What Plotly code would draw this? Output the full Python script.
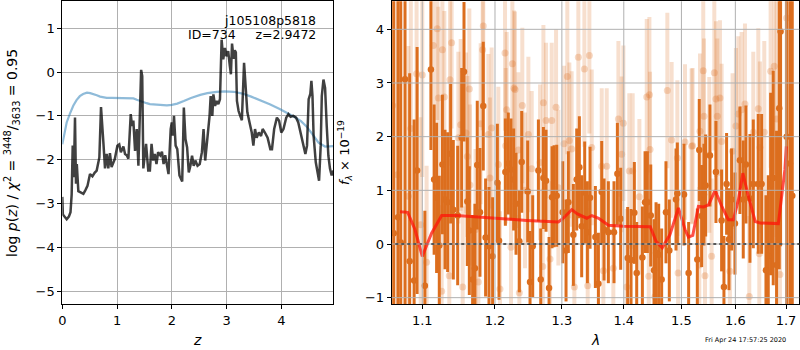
import plotly.graph_objects as go

# ---------------- left panel: p(z) ----------------
z_pz = [0.0, 0.01, 0.04, 0.08, 0.12, 0.15, 0.171, 0.19, 0.21, 0.232, 0.25, 0.265, 0.293, 0.33, 0.385, 0.42,
        0.46, 0.506, 0.55, 0.59, 0.628, 0.677, 0.707, 0.75, 0.78, 0.81, 0.84, 0.87, 0.90, 0.96, 1.006, 1.04,
        1.07, 1.116, 1.146, 1.177, 1.207, 1.25, 1.274, 1.298, 1.329, 1.36, 1.39, 1.44, 1.46, 1.48, 1.53, 1.57,
        1.60, 1.63, 1.66, 1.69, 1.72, 1.75, 1.79, 1.82, 1.85, 1.88, 1.91, 1.94, 1.98, 2.0, 2.02, 2.04, 2.07,
        2.10, 2.14, 2.19, 2.22, 2.25, 2.28, 2.31, 2.34, 2.37, 2.40, 2.43, 2.47, 2.51, 2.55, 2.58, 2.61, 2.65,
        2.69, 2.71, 2.74, 2.76, 2.79, 2.82, 2.85, 2.88, 2.90, 2.91, 2.94, 2.97, 3.0, 3.03, 3.06, 3.08, 3.10,
        3.13, 3.15, 3.17, 3.19, 3.22, 3.25, 3.28, 3.32, 3.35, 3.38, 3.42, 3.46, 3.49, 3.52, 3.55, 3.59, 3.63,
        3.66, 3.70, 3.75, 3.80, 3.83, 3.87, 3.92, 3.96, 4.00, 4.04, 4.09, 4.13, 4.17, 4.22, 4.27, 4.31, 4.35,
        4.39, 4.44, 4.47, 4.50, 4.53, 4.55, 4.57, 4.59, 4.63, 4.66, 4.69, 4.72, 4.74, 4.77, 4.80, 4.83, 4.86,
        4.89, 4.92, 4.95]
logp = [-2.85, -3.25, -3.3, -3.36, -3.3, -3.2, -2.8, -1.68, -2.4, -1.04, -2.55, -2.1, -2.72, -2.75, -2.78, -2.7,
        -2.6, -2.33, -2.38, -2.3, -2.25, -1.95, -0.8, -1.6, -2.2, -1.87, -2.2, -1.85, -2.17, -1.98, -1.68, -1.65,
        -1.83, -1.7, -1.87, -1.9, -1.98, -0.96, -1.23, -1.11, -1.8, -1.3, -2.14, 0.05, -0.09, -2.2, -1.64, -2.25,
        -2.25, -1.64, -2.02, -1.87, -2.1, -1.83, -1.9, -1.82, -2.1, -1.9, -2.13, -2.33, -1.3, -1.15, -1.45, -1.0, -1.68,
        -1.76, -2.36, -2.5, -0.81, -1.53, -1.72, -2.29, -2.14, -1.91, -2.14, -2.02, -2.14, -2.1, -1.83, -1.3, -2.02, -1.53,
        -1.0, -0.55, -1.0, -0.51, -0.77, -0.66, -0.73, -0.62, 0.52, 0.74, 0.29, 0.55, 0.36, 0.48, 0.14, -0.05, 0.65,
        0.3, 0.5, 0.45, -0.66, -0.89, -1.0, -1.1, 0.21, -0.3, -0.92, -1.15, -1.38, -1.68, -1.3, -1.5, -1.38, -1.46,
        -1.3, -1.38, -1.5, -1.76, -1.76, -1.3, -1.04, -1.11, -1.38, -1.3, -1.04, -0.96, -1.02, -1.0, -1.04, -1.15, -1.38,
        -1.57, -1.87, -1.68, -0.62, -0.5, -0.2, -0.55, -1.45, -2.06, -2.29, -2.48, -1.68, -0.55, -0.17, -0.36, -1.23, -1.91,
        -2.21, -2.36, -2.25]

z_prior = [0.0, 0.04, 0.08, 0.14, 0.2, 0.26, 0.32, 0.38, 0.45, 0.51, 0.57, 0.63, 0.69, 0.75, 0.81, 0.9, 1.0, 1.1,
           1.18, 1.3, 1.36, 1.42, 1.48, 1.54, 1.6, 1.69, 1.8, 1.91, 2.0, 2.1, 2.22, 2.35, 2.52, 2.65, 2.82, 2.97,
           3.13, 3.29, 3.45, 3.61, 3.8, 3.98, 4.12, 4.25, 4.36, 4.46, 4.57, 4.68, 4.80, 4.95]
logp_prior = [-1.65, -1.35, -1.15, -0.95, -0.77, -0.64, -0.55, -0.5, -0.47, -0.48, -0.5, -0.53, -0.56, -0.58, -0.59,
              -0.59, -0.59, -0.6, -0.59, -0.6, -0.63, -0.66, -0.69, -0.71, -0.73, -0.74, -0.75, -0.76, -0.75, -0.72,
              -0.66, -0.59, -0.52, -0.48, -0.45, -0.44, -0.45, -0.49, -0.56, -0.64, -0.74, -0.85, -0.94, -1.03, -1.12,
              -1.24, -1.42, -1.61, -1.70, -1.69]

# ---------------- right panel: spectrum ----------------
lam_dark = [1.0630, 1.0685, 1.0720, 1.0775, 1.0835, 1.0893, 1.0932, 1.1034, 1.1114, 1.1157, 1.1190, 1.1226, 1.1268,
            1.1303, 1.1339, 1.1380, 1.1416, 1.1476, 1.1531, 1.1563, 1.1609, 1.1637, 1.1683, 1.1715, 1.1748, 1.1786,
            1.1833, 1.1866, 1.1914, 1.1966, 1.2034, 1.2058, 1.2150, 1.2193, 1.2232, 1.2271, 1.2306, 1.2355, 1.2390,
            1.2479, 1.2514, 1.2554, 1.2640, 1.2675, 1.2716, 1.2756, 1.2802, 1.2848, 1.2879, 1.2920, 1.3013, 1.3065,
            1.3101, 1.3180, 1.3233, 1.3275, 1.3312, 1.3360, 1.3403, 1.3446, 1.3532, 1.3581, 1.3635, 1.3673, 1.3744,
            1.3837, 1.3893, 1.3948, 1.4065, 1.4122, 1.4178, 1.4218, 1.4315, 1.4361, 1.4401, 1.4459, 1.4516, 1.4551,
            1.4597, 1.4649, 1.4725, 1.4784, 1.4903, 1.4927, 1.5046, 1.5130, 1.5288, 1.5324, 1.5367, 1.5410, 1.5441,
            1.5521, 1.5633, 1.5739, 1.5783, 1.5833, 1.5878, 1.5928, 1.5992, 1.6088, 1.6152, 1.6204, 1.6282, 1.6347,
            1.6445, 1.6511, 1.6597, 1.6643, 1.6690, 1.6742, 1.6809, 1.6863, 1.6890, 1.7013, 1.7080, 1.7128]
f_dark = [0.2, 0.5, 0.03, 3.07, -0.32, -0.68, 1.37, -0.78, 3.25, 1.2, 0.86, -0.03, 1.48, 0.83, 0.78, 1.68, 0.64,
          0.53, 1.98, 3.21, 0.79, 0.25, -0.66, -0.45, 1.47, 0.59, 2.57, 0.12, -0.04, -0.23, 1.14, 0.06, 1.34, 1.5,
          1.39, 1.2, 0.75, 0.05, 1.53, 0.98, -0.71, -0.04, 1.37, -0.66, 1.23, 1.18, -0.82, 0.87, 0.89, 0.9, 0.59,
          -0.12, 0.78, 0.17, 1.2, 1.43, 0.33, 0.96, 0.22, 0.86, 0.13, -0.74, 0.97, 0.27, 0.22, 0.22, 1.31, 0.47,
          -0.26, -0.3, 0.58, -0.54, -0.25, 0.78, 0.78, 0.53, -0.49, -0.17, -0.2, -0.66, 0.59, -0.12, 0.83, 0.94,
          0.92, -0.54, -0.29, 1.75, 0.52, 0.92, 1.09, 1.65, 1.34, 0.44, -0.8, 1.12, 0.09, 0.83, 0.38, 1.56, 0.83,
          1.48, 0.85, 1.12, 1.12, 1.12, -0.49, -0.22, 1.12, 1.23, -0.39, 2.53, 3.96, 2.0, 1.5, 0.9]
e_dark = [6.0, 6.0, 6.0, 5.0, 3.5, 3.0, 2.3, 1.4, 1.5, 1.4, 1.4, 1.3, 1.3, 1.3, 1.3, 1.3, 1.3, 1.3, 1.3, 1.3, 1.2,
          1.2, 1.2, 1.2, 1.2, 1.2, 1.2, 1.1, 1.1, 1.1, 1.1, 1.1, 1.0, 0.95, 0.95, 0.95, 0.95, 0.95, 0.95, 0.95, 0.95,
          0.95, 0.95, 0.95, 0.95, 0.95, 0.95, 0.95, 0.95, 0.95, 0.95, 0.95, 0.95, 0.95, 0.95, 0.95, 0.95, 0.95, 0.95,
          0.95, 0.95, 0.95, 0.95, 0.95, 0.95, 0.95, 0.95, 0.95, 0.95, 0.95, 0.95, 0.95, 0.95, 0.95, 0.95, 0.95, 0.95,
          0.95, 0.95, 0.95, 0.95, 0.95, 0.95, 0.95, 0.95, 0.95, 0.95, 0.95, 0.95, 0.95, 0.95, 0.95, 0.95, 0.95, 0.95,
          0.95, 0.95, 0.95, 0.95, 1.0, 1.1, 1.1, 1.2, 1.2, 1.3, 1.3, 1.4, 1.5, 1.7, 2.0, 2.5, 3.0, 4.0, 5.0, 6.0,
          6.0, 2.1]

lam_light = [1.0616, 1.0678, 1.0818, 1.0850, 1.0925, 1.0979, 1.1000, 1.1057, 1.1146, 1.1199, 1.1213, 1.1258, 1.1268,
             1.1294, 1.1361, 1.1371, 1.1393, 1.1485, 1.1517, 1.1545, 1.1591, 1.1609, 1.1637, 1.1646, 1.1724, 1.1763,
             1.1796, 1.1824, 1.1833, 1.1905, 1.1928, 1.1952, 1.2048, 1.2072, 1.2145, 1.2155, 1.2169, 1.2232, 1.2252,
             1.2276, 1.2291, 1.2340, 1.2355, 1.2399, 1.2439, 1.2489, 1.2539, 1.2665, 1.2706, 1.2716, 1.2756, 1.2817,
             1.2843, 1.2910, 1.2946, 1.3033, 1.3085, 1.3117, 1.3153, 1.3196, 1.3259, 1.3355, 1.3408, 1.3435, 1.3473,
             1.3635, 1.3662, 1.3717, 1.3826, 1.3910, 1.3965, 1.3993, 1.4049, 1.4093, 1.4150, 1.4264, 1.4390, 1.4425,
             1.4436, 1.4447, 1.4533, 1.4749, 1.4825, 1.4927, 1.4940, 1.5064, 1.5184, 1.5202, 1.5324, 1.5337, 1.5397,
             1.5410, 1.5429, 1.5509, 1.5552, 1.5602, 1.5633, 1.5658, 1.5708, 1.5739, 1.5896, 1.5947, 1.6011, 1.6056,
             1.6120, 1.6185, 1.6269, 1.6347, 1.6445, 1.6465, 1.6478, 1.6564, 1.6690, 1.6762, 1.6809, 1.6877, 1.7013]
f_light = [2.58, 1.29, 0.89, 2.15, 3.17, 0.36, 3.15, -0.34, 3.7, 4.01, 2.72, -0.88, 3.62, 2.74, -0.59, 3.06, 3.75,
           1.98, 2.22, -0.8, 2.07, 1.63, 2.89, 1.1, 0.27, -0.71, 2.24, 3.62, 4.06, 2.04, 1.23, 2.16, 1.48, -0.84,
           3.56, 1.83, 2.5, -0.06, 3.36, 2.9, 2.88, 1.75, -0.91, 2.58, 1.0, 2.04, 1.4, 1.52, -0.42, 2.63, 2.3,
           -0.28, 2.3, 2.55, 1.05, 1.87, 3.12, 1.93, 1.77, -0.8, 3.48, 3.26, -0.78, 3.51, 1.8, 1.45, -0.5, 1.45,
           -0.45, 2.33, 1.67, 2.25, -0.8, 1.36, 1.36, 0.88, 2.74, -0.6, 2.78, 1.76, -0.98, 2.86, 1.94, 1.6, -0.54,
           1.9, 1.82, 1.83, -0.39, 2.1, 3.23, 2.38, -0.59, 1.66, -0.23, 3.19, 2.7, 2.38, 2.72, 1.91, -0.51, 1.73,
           2.2, 2.42, 2.5, 2.61, -0.98, 2.08, 2.52, -0.18, 1.8, 2.08, 3.22, 3.31, 2.33, -0.57, 4.21]
e_light = [4.0, 3.5, 2.8, 2.5, 2.2, 2.0, 1.9, 1.8, 1.7, 1.7, 1.7, 1.6, 1.6, 1.6, 1.6, 1.6, 1.6, 1.6, 1.6, 1.5, 1.5,
           1.5, 1.5, 1.5, 1.5, 1.5, 1.5, 1.5, 1.5, 1.5, 1.5, 1.5, 1.45, 1.45, 1.45, 1.45, 1.45, 1.45, 1.45, 1.45,
           1.45, 1.45, 1.45, 1.45, 1.45, 1.45, 1.45, 1.45, 1.45, 1.45, 1.45, 1.45, 1.45, 1.45, 1.45, 1.45, 1.45,
           1.45, 1.45, 1.45, 1.45, 1.45, 1.45, 1.45, 1.45, 1.45, 1.45, 1.45, 1.45, 1.45, 1.45, 1.45, 1.45, 1.45,
           1.45, 1.45, 1.45, 1.45, 1.45, 1.45, 1.45, 1.45, 1.45, 1.45, 1.45, 1.45, 1.45, 1.45, 1.45, 1.45, 1.45,
           1.45, 1.45, 1.45, 1.45, 1.45, 1.45, 1.45, 1.45, 1.45, 1.45, 1.45, 1.45, 1.45, 1.45, 1.5, 1.5, 1.5, 1.5,
           1.6, 1.6, 1.7, 1.8, 2.0, 2.2, 2.5, 2.8, 3.0, 4.0]

lam_model = [1.0710, 1.0809, 1.0904, 1.1000, 1.1123, 1.1258, 1.1462, 1.1975, 1.2464, 1.2945, 1.3023, 1.3154, 1.3244,
             1.3394, 1.3475, 1.3585, 1.3746, 1.3992, 1.4451, 1.4551, 1.4660, 1.4794, 1.4946, 1.5065, 1.5127, 1.5205,
             1.5308, 1.5403, 1.5496, 1.5617, 1.5743, 1.5868, 1.5963, 1.6060, 1.6144, 1.6251, 1.6385, 1.6485, 1.6845,
             1.6977, 1.7007]
f_model = [0.60, 0.59, 0.27, -0.23, 0.20, 0.53, 0.53, 0.48, 0.44, 0.41, 0.48, 0.64, 0.56, 0.48, 0.53, 0.48, 0.35,
           0.33, 0.32, 0.05, -0.07, 0.17, 0.67, 0.27, 0.13, 0.16, 0.70, 0.69, 0.73, 1.00, 0.70, 0.45, 0.45, 0.83,
           1.32, 0.89, 0.42, 0.39, 0.38, 1.38, 1.82]

zero_lam = [1.065, 1.728]
zero_f = [0.0, 0.0]

z_ticks = [0, 1, 2, 3, 4]
lp_ticks = [1, 0, -1, -2, -3, -4, -5]
lam_ticks = [1.1, 1.2, 1.3, 1.4, 1.5, 1.6, 1.7]
f_ticks = [-1, 0, 1, 2, 3, 4]

ORANGE = "rgb(220,110,30)"
FONT = "DejaVu Sans"

fig = go.Figure()

fig.add_trace(go.Scatter(x=z_prior, y=logp_prior, mode="lines",
                         line=dict(color="rgba(31,119,180,0.5)", width=2.2), xaxis="x", yaxis="y"))
fig.add_trace(go.Scatter(x=z_pz, y=logp, mode="lines",
                         line=dict(color="rgba(0,0,0,0.75)", width=2.5), xaxis="x", yaxis="y"))

fig.add_trace(go.Scatter(x=lam_light, y=f_light, mode="markers",
                         marker=dict(color="rgba(220,110,30,0.26)", size=7),
                         error_y=dict(type="data", array=e_light, color="rgba(220,110,30,0.22)",
                                      thickness=4, width=0),
                         xaxis="x2", yaxis="y2"))
fig.add_trace(go.Scatter(x=lam_dark, y=f_dark, mode="markers",
                         marker=dict(color=ORANGE, size=6.5),
                         error_y=dict(type="data", array=e_dark, color=ORANGE, thickness=3, width=0),
                         xaxis="x2", yaxis="y2"))
fig.add_trace(go.Scatter(x=zero_lam, y=zero_f, mode="lines",
                         line=dict(color="black", width=2, dash="dot"), xaxis="x2", yaxis="y2"))
fig.add_trace(go.Scatter(x=lam_model, y=f_model, mode="lines",
                         line=dict(color="rgba(255,20,10,0.75)", width=3), xaxis="x2", yaxis="y2"))

axis_common = dict(gridcolor="#b0b0b0", gridwidth=1, showline=True, mirror=True,
                   linecolor="black", linewidth=1, ticks="outside", ticklen=4, tickcolor="black",
                   zeroline=False, automargin=False, tickfont=dict(family=FONT, size=13, color="black"))

ydom = [46 / 350, 348.7 / 350]
fig.update_layout(
    width=800, height=350, autosize=False,
    margin=dict(l=0, r=0, t=0, b=0, pad=0, autoexpand=False),
    paper_bgcolor="white", plot_bgcolor="white", showlegend=False,
    font=dict(family=FONT, size=13, color="black"),
    xaxis=dict(domain=[62.3 / 800, 333.3 / 800], range=[0, 4.95], tickvals=z_ticks, anchor="y",
               showgrid=True, **axis_common),
    yaxis=dict(domain=ydom, range=[-5.297, 1.617], tickvals=lp_ticks, anchor="x", showgrid=True, **axis_common),
    xaxis2=dict(domain=[391.7 / 800, 799.3 / 800], type="log", range=[0.02549, 0.23736],
                tickvals=lam_ticks, ticktext=[str(v) for v in lam_ticks], anchor="y2",
                showgrid=False, **axis_common),
    yaxis2=dict(domain=ydom, range=[-1.118, 4.522], tickvals=f_ticks, anchor="x2",
                showgrid=False, **axis_common),
)

# grid of the spectrum panel drawn over the error bars, as in the original
for v in lam_ticks:
    fig.add_shape(type="line", xref="x2", yref="y2 domain", x0=v, x1=v, y0=0, y1=1,
                  line=dict(color="#b0b0b0", width=1), layer="above")
for v in f_ticks:
    fig.add_shape(type="line", xref="x2 domain", yref="y2", x0=0, x1=1, y0=v, y1=v,
                  line=dict(color="#b0b0b0", width=1), layer="above")

ann = []
ann.append(dict(text="j105108p5818", x=318 / 800, y=1 - 20 / 350, xref="paper", yref="paper",
                xanchor="right", yanchor="middle", showarrow=False, font=dict(family=FONT, size=12.5)))
ann.append(dict(text="ID=734     z=2.9472", x=318 / 800, y=1 - 34.5 / 350, xref="paper", yref="paper",
                xanchor="right", yanchor="middle", showarrow=False, font=dict(family=FONT, size=12.5)))
ann.append(dict(text="<i>z</i>", x=197 / 800, y=1 - 340 / 350, xref="paper", yref="paper",
                xanchor="center", yanchor="middle", showarrow=False, font=dict(family=FONT, size=14)))
ann.append(dict(text="<i>λ</i>", x=595 / 800, y=1 - 340 / 350, xref="paper", yref="paper",
                xanchor="center", yanchor="middle", showarrow=False, font=dict(family=FONT, size=14)))
ann.append(dict(text="log <i>p</i>(<i>z</i>) / <i>χ</i><sup>2</sup> = <sup>3448</sup>/<sub>3633</sub> = 0.95",
                x=12 / 800, y=1 - 153 / 350, xref="paper", yref="paper", textangle=-90,
                xanchor="center", yanchor="middle", showarrow=False, font=dict(family=FONT, size=14)))
ann.append(dict(text="<i>f</i><sub><i>λ</i></sub> × 10<sup>−19</sup>",
                x=345 / 800, y=1 - 153 / 350, xref="paper", yref="paper", textangle=-90,
                xanchor="center", yanchor="middle", showarrow=False, font=dict(family=FONT, size=13)))
ann.append(dict(text="Fri Apr 24 17:57:25 2020", x=788 / 800, y=1 - 340 / 350, xref="paper", yref="paper",
                xanchor="right", yanchor="middle", showarrow=False, font=dict(family=FONT, size=6.5)))
fig.update_layout(annotations=ann)

fig.write_html("out.html", config={"displayModeBar": False},
               post_script="document.body.style.margin='0px';")
